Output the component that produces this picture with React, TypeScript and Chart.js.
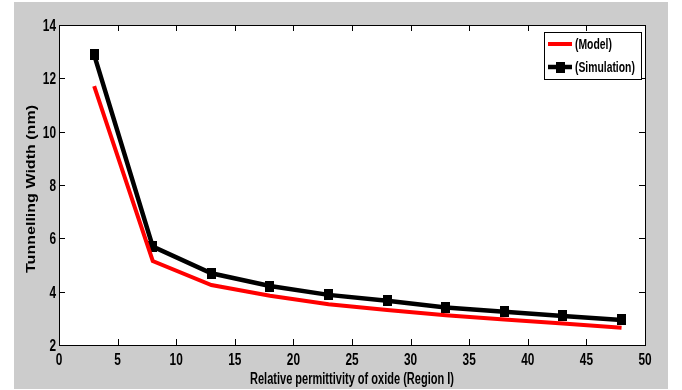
import React, { useEffect, useRef } from 'react';
import { Chart, registerables } from 'chart.js';

Chart.register(...registerables);

const permittivity = [3, 8, 13, 18, 23, 28, 33, 38, 43, 48];
const modelWidth = [11.71, 5.15, 4.25, 3.85, 3.53, 3.31, 3.12, 2.96, 2.81, 2.65];
const simulationWidth = [12.88, 5.69, 4.69, 4.21, 3.88, 3.66, 3.41, 3.25, 3.09, 2.94];
const seriesLabels = ['(Model)', '(Simulation)'];
const xTickValues = [0, 5, 10, 15, 20, 25, 30, 35, 40, 45, 50];
const yTickValues = [2, 4, 6, 8, 10, 12, 14];
const xTitle = 'Relative permittivity of oxide (Region I)';
const yTitle = 'Tunnelling Width (nm)';

const FONT = "'Liberation Sans', Arial, sans-serif";
const SQUEEZE = 0.74;

function makeMarker(): HTMLCanvasElement {
  const c = document.createElement('canvas');
  c.width = 9;
  c.height = 11;
  const g = c.getContext('2d')!;
  g.fillStyle = '#000';
  g.fillRect(0, 0, 9, 11);
  return c;
}

function drawSqueezed(
  ctx: CanvasRenderingContext2D,
  text: string,
  x: number,
  y: number,
  font: string,
  align: 'left' | 'center' | 'right',
  baseline: CanvasTextBaseline,
  scaleX: number
) {
  ctx.save();
  ctx.font = font;
  ctx.textBaseline = baseline;
  ctx.textAlign = align;
  ctx.translate(x, y);
  ctx.scale(scaleX, 1);
  ctx.fillText(text, 0, 0);
  ctx.restore();
}

function fitScale(ctx: CanvasRenderingContext2D, text: string, font: string, width: number) {
  ctx.save();
  ctx.font = font;
  const w = ctx.measureText(text).width;
  ctx.restore();
  return width / w;
}

const plotBg = {
  id: 'plotBg',
  beforeDraw(chart: any) {
    const { ctx, chartArea: a } = chart;
    ctx.save();
    ctx.fillStyle = '#ffffff';
    ctx.fillRect(a.left, a.top, a.right - a.left, a.bottom - a.top);
    ctx.restore();
  },
};

const frameTicks = {
  id: 'frameTicks',
  afterDraw(chart: any) {
    const { ctx, chartArea: a, scales } = chart;
    const len = 6;
    ctx.save();
    ctx.strokeStyle = '#000';
    ctx.lineWidth = 1;
    ctx.beginPath();
    xTickValues.forEach((v) => {
      const x = Math.round(scales.x.getPixelForValue(v)) + 0.5;
      ctx.moveTo(x, a.bottom);
      ctx.lineTo(x, a.bottom - len);
      ctx.moveTo(x, a.top);
      ctx.lineTo(x, a.top + len);
    });
    yTickValues.forEach((v) => {
      const y = Math.round(scales.y.getPixelForValue(v)) + 0.5;
      ctx.moveTo(a.left, y);
      ctx.lineTo(a.left + len, y);
      ctx.moveTo(a.right, y);
      ctx.lineTo(a.right - len, y);
    });
    ctx.stroke();
    ctx.strokeRect(Math.round(a.left) + 0.5, Math.round(a.top) + 0.5, Math.round(a.right - a.left), Math.round(a.bottom - a.top));

    ctx.fillStyle = '#000';
    const tickFont = `bold 16px ${FONT}`;
    xTickValues.forEach((v) => {
      const x = scales.x.getPixelForValue(v);
      drawSqueezed(ctx, String(v), x, a.bottom + 20, tickFont, 'center', 'alphabetic', SQUEEZE);
    });
    yTickValues.forEach((v) => {
      const y = scales.y.getPixelForValue(v);
      drawSqueezed(ctx, String(v), a.left - 3, y + 6, tickFont, 'right', 'alphabetic', SQUEEZE);
    });
    const xtFont = `bold 16px ${FONT}`;
    const sx = fitScale(ctx, xTitle, xtFont, 204);
    drawSqueezed(ctx, xTitle, (a.left + a.right) / 2, a.bottom + 39, xtFont, 'center', 'alphabetic', sx);

    const ytFont = `bold 12px ${FONT}`;
    const sy = fitScale(ctx, yTitle, ytFont, 168);
    ctx.save();
    ctx.translate(18, 187);
    ctx.rotate(-Math.PI / 2);
    drawSqueezed(ctx, yTitle, 0, 0, ytFont, 'center', 'middle', sy);
    ctx.restore();
    ctx.restore();
  },
};

const boxLegend = {
  id: 'boxLegend',
  afterDraw(chart: any) {
    const { ctx, chartArea: a } = chart;
    const bx = a.right - 101;
    const by = a.top + 7;
    const bw = 97;
    const bh = 47;
    ctx.save();
    ctx.fillStyle = '#fff';
    ctx.fillRect(bx, by, bw, bh);
    ctx.strokeStyle = '#000';
    ctx.lineWidth = 1;
    ctx.strokeRect(bx + 0.5, by + 0.5, bw, bh);
    chart.data.datasets.forEach((ds: any, i: number) => {
      const y = by + 12 + i * 23;
      ctx.strokeStyle = ds.borderColor;
      ctx.lineWidth = ds.borderWidth;
      ctx.beginPath();
      ctx.moveTo(bx + 4, y);
      ctx.lineTo(bx + 28, y);
      ctx.stroke();
      if (ds.pointRadius > 0) {
        const m = ds.pointStyle as HTMLCanvasElement;
        ctx.drawImage(m, bx + 16 - m.width / 2, y - m.height / 2);
      }
      ctx.fillStyle = '#000';
      drawSqueezed(ctx, ds.label, bx + 31, y + 5, `bold 14px ${FONT}`, 'left', 'alphabetic', SQUEEZE);
    });
    ctx.restore();
  },
};

export default function App() {
  const ref = useRef<HTMLCanvasElement | null>(null);

  useEffect(() => {
    document.body.style.margin = '0';
    const canvas = ref.current;
    if (!canvas) return;
    const marker = makeMarker();
    const chart = new Chart(canvas, {
      type: 'line',
      data: {
        datasets: [
          {
            label: seriesLabels[0],
            data: permittivity.map((x, i) => ({ x, y: modelWidth[i] })),
            borderColor: '#ff0000',
            backgroundColor: '#ff0000',
            borderWidth: 4,
            pointRadius: 0,
            pointBackgroundColor: '#ff0000',
            tension: 0,
          },
          {
            label: seriesLabels[1],
            data: permittivity.map((x, i) => ({ x, y: simulationWidth[i] })),
            borderColor: '#000000',
            backgroundColor: '#000000',
            borderWidth: 4.5,
            pointRadius: 5,
            pointStyle: marker,
            pointBackgroundColor: '#000000',
            pointBorderColor: '#000000',
            pointBorderWidth: 0,
            tension: 0,
          },
        ],
      },
      options: {
        responsive: false,
        animation: false,
        maintainAspectRatio: false,
        layout: { padding: { left: 0, right: 23, top: 23, bottom: 0 } },
        plugins: {
          legend: { display: false },
          tooltip: { enabled: false },
        },
        scales: {
          x: {
            type: 'linear',
            min: 0,
            max: 50,
            afterBuildTicks: (s: any) => {
              s.ticks = xTickValues.map((v) => ({ value: v }));
            },
            afterFit: (s: any) => {
              s.height = 44;
            },
            grid: { display: false, drawTicks: false },
            border: { display: false },
            ticks: { display: false },
            title: { display: false },
          },
          y: {
            type: 'linear',
            min: 2,
            max: 14,
            afterBuildTicks: (s: any) => {
              s.ticks = yTickValues.map((v) => ({ value: v }));
            },
            afterFit: (s: any) => {
              s.width = 45;
            },
            grid: { display: false, drawTicks: false },
            border: { display: false },
            ticks: { display: false },
            title: { display: false },
          },
        },
      },
      plugins: [plotBg, frameTicks, boxLegend],
    } as any);
    return () => chart.destroy();
  }, []);

  return (
    <div style={{ position: 'relative', width: 682, height: 390, background: '#ffffff', overflow: 'hidden' }}>
      <canvas
        ref={ref}
        width={654}
        height={387}
        style={{ position: 'absolute', left: 14, top: 2, width: 654, height: 387, background: '#cccccc' }}
      />
    </div>
  );
}
